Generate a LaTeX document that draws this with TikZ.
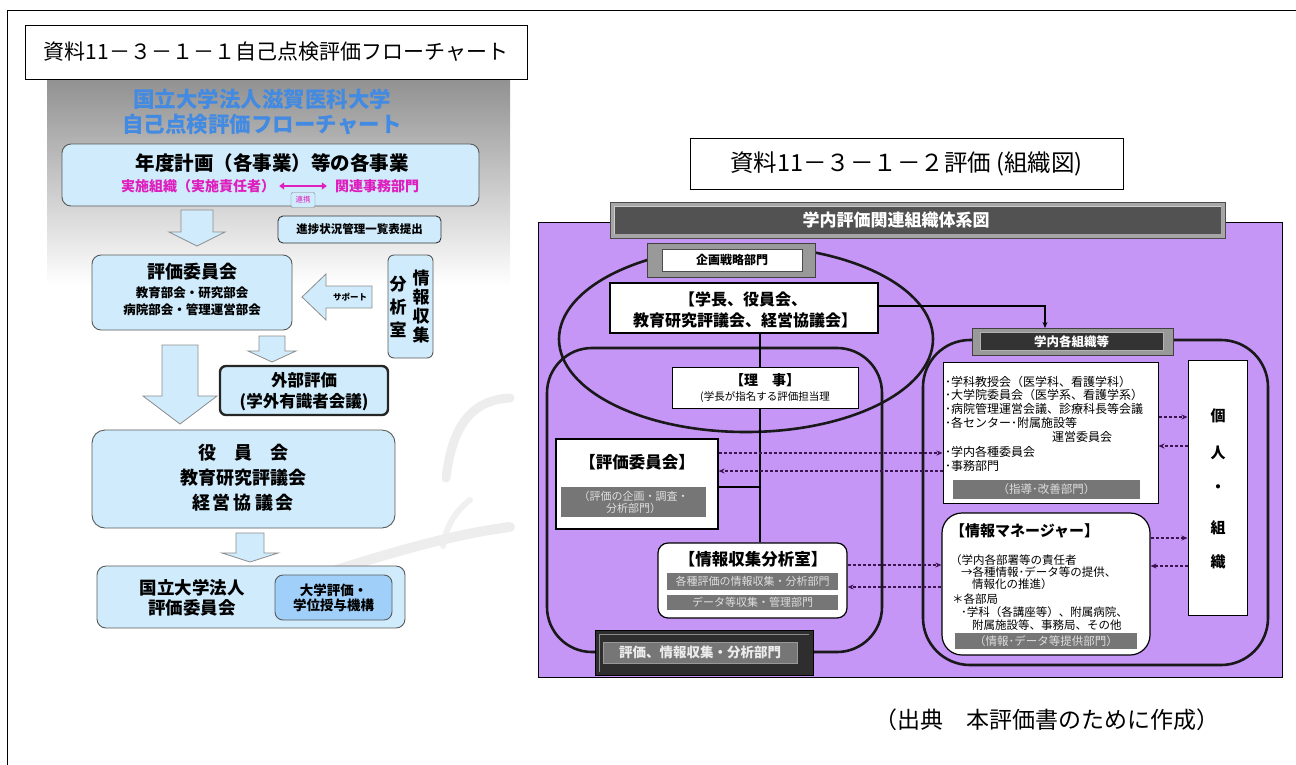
\documentclass[tikz,border=0pt]{standalone}
\usepackage{fontspec}
\setmainfont{Noto Sans CJK JP}
\usetikzlibrary{arrows.meta,calc}
\definecolor{lblue}{RGB}{208,236,252}
\definecolor{mblue}{RGB}{160,208,250}
\definecolor{tblue}{RGB}{66,138,226}
\definecolor{mag}{RGB}{222,30,190}
\definecolor{purp}{RGB}{198,150,247}
\definecolor{strip}{RGB}{118,118,118}
\definecolor{striptext}{RGB}{222,222,222}
\definecolor{dotc}{RGB}{60,20,80}
\newcommand{\fs}[1]{\fontsize{#1}{#1}\selectfont}
\tikzset{
  lb/.style={draw=black!65,fill=lblue,rounded corners=9pt,line width=0.9pt,inner sep=0pt},
  barrow/.style={draw=black!45,fill=lblue,line width=0.8pt},
  wb/.style={draw=black,fill=white,line width=1pt,inner sep=0pt},
  tk/.style={line width=2.6pt,black!90},
  conn/.style={line width=2pt,black},
  dots/.style={line width=1.3pt,dotc,dash pattern=on 3pt off 2pt,-{Stealth[length=6pt,width=5pt]}},
  gs/.style={fill=strip,draw=none,text=striptext,inner sep=0pt,align=center},
  txt/.style={inner sep=0pt,align=center},
  swoosh/.style={line cap=round,black!7},
}
\begin{document}
\begin{tikzpicture}[x=1pt,y=-1pt]
\useasboundingbox (0,0) rectangle (1296,764);
% outer frame
\draw[line width=1pt] (7,800) -- (7,10) -- (1320,10);
% ---------------- left chart ----------------
\shade[top color={rgb,255:red,145;green,145;blue,145},bottom color=white] (47,79) rectangle (510,285);
% swooshes
\draw[swoosh,line width=9pt] (510,398) .. controls (470,400) and (452,428) .. (446,478);
\draw[swoosh,line width=6pt,black!6] (470,500) .. controls (454,512) and (446,528) .. (443,546);
\draw[swoosh,line width=10pt] (330,572) .. controls (405,548) and (462,533) .. (510,527);
\node[draw=black,fill=white,line width=1pt,minimum width=502pt,minimum height=54pt,inner sep=0pt] (t1) at (276,52) {};
\node[txt,font=\fs{21}] (t1t) at (t1.center) {資料11－３－１－１自己点検評価フローチャート};
\node[txt,text=tblue,font=\bfseries\fs{21.5}] (bt1) at (262,99) {国立大学法人滋賀医科大学};
\node[txt,text=tblue,font=\bfseries\fs{21.5}] (bt2) at (262,124) {自己点検評価フローチャート};
% box1
\node[lb,minimum width=417pt,minimum height=62pt] (b1) at (270.5,175) {};
\node[txt,font=\bfseries\fs{19.5}] (b1a) at (272,163) {年度計画（各事業）等の各事業};
\node[txt,font=\bfseries\fs{14},text=mag] (b1b) at (198,186) {実施組織（実施責任者）};
\node[txt,font=\bfseries\fs{14},text=mag] (b1c) at (377,186) {関連事務部門};
\draw[mag,line width=2.4pt,{Triangle[length=5pt,width=7pt]}-{Triangle[length=5pt,width=7pt]}] (b1b.east) ++(4,0) coordinate (ma) -- ($(b1c.west)+(-8,0)$) coordinate (mb);
\node[draw=black!50,fill=lblue,rounded corners=2pt,minimum width=24pt,minimum height=15pt,inner sep=0pt,text=mag,font=\fs{7.5}] (rk) at ($(ma)!0.5!(mb)+(0,14)$) {連携};
% arrow 1
\draw[barrow] (181,210) -- (213,210) -- (213,232) -- (225,232) -- (197,246) -- (169,232) -- (181,232) -- cycle;
\node[lb,rounded corners=5pt,minimum width=163pt,minimum height=27pt,draw=black!80,font=\bfseries\fs{11.5}] (sh) at (359.5,229.5) {進捗状況管理一覧表提出};
% box2
\node[lb,minimum width=200pt,minimum height=75pt] (b2) at (192,292.5) {};
\node[txt,font=\bfseries\fs{18}] (b2a) at (192,272) {評価委員会};
\node[txt,font=\bfseries\fs{12.5}] (b2b) at (192,293) {教育部会・研究部会};
\node[txt,font=\bfseries\fs{12.5}] (b2c) at (192,310) {病院部会・管理運営部会};
% support arrow
\draw[barrow] (302,297) -- (326,274) -- (326,286) -- (372,286) -- (372,308) -- (326,308) -- (326,320) -- cycle;
\node[txt,font=\bfseries\fs{8.5}] (sp) at (350,297) {サポート};
% info room
\node[lb,rounded corners=6pt,minimum width=45pt,minimum height=103pt] (jr) at (410.5,306.5) {};
\node[txt,font=\bfseries\fs{17}] (jr1) at (421,307) {情\\[2pt]報\\[2pt]収\\[2pt]集};
\node[txt,font=\bfseries\fs{17}] (jr2) at (398,307) {分\\[6pt]析\\[6pt]室};
% arrow 2 (small)
\draw[barrow] (259,336) -- (285,336) -- (285,351) -- (296,351) -- (272,362) -- (248,351) -- (259,351) -- cycle;
% external
\node[lb,rounded corners=6pt,draw=black!85,line width=2.4pt,minimum width=168pt,minimum height=49pt] (ext) at (304,390.5) {};
\node[txt,font=\bfseries\fs{16.5}] (exta) at (304,380) {外部評価};
\node[txt,font=\bfseries\fs{16.5}] (extb) at (304,402) {(学外有識者会議)};
% arrow 3 (big)
\draw[barrow] (162,345) -- (198,345) -- (198,396) -- (217,396) -- (180,424) -- (143,396) -- (162,396) -- cycle;
% board
\node[lb,rounded corners=13pt,minimum width=303pt,minimum height=98pt] (b3) at (243.5,479) {};
\node[txt,font=\bfseries\fs{18}] (b3a) at (243,453) {役　員　会};
\node[txt,font=\bfseries\fs{18}] (b3b) at (243,478) {教育研究評議会};
\node[txt,font=\bfseries\fs{18}] (b3c) at (243,503) {経\,営\,協\,議\,会};
% arrow 4
\draw[barrow] (236,533) -- (264,533) -- (264,553) -- (278,553) -- (250,562) -- (222,553) -- (236,553) -- cycle;
% bottom box
\node[lb,minimum width=308pt,minimum height=62pt] (b4) at (251,597) {};
\node[txt,font=\bfseries\fs{17.5}] (b4a) at (192,598) {国立大学法人\\[3pt]評価委員会};
\node[lb,fill=mblue,rounded corners=8pt,minimum width=117pt,minimum height=45pt] (b4b) at (333.5,597.5) {};
\node[txt,font=\bfseries\fs{13.5}] (b4bt) at (333.5,598) {大学評価・\\[2pt]学位授与機構};
% ---------------- right chart ----------------
\node[draw=black,fill=white,line width=1pt,minimum width=433pt,minimum height=51pt,inner sep=0pt] (t2) at (906.5,163.5) {};
\node[txt,font=\fs{23.5}] (t2t) at (t2.center) {資料11－３－１－２評価 (組織図)};
\draw[fill=purp,line width=0.8pt] (538,222) rectangle (1282,677);
% header bar
\node[fill=black!35,draw=black!70,line width=0.8pt,minimum width=615pt,minimum height=36pt,inner sep=0pt] (hb) at (917.5,220) {};
\fill[black!68] (614,206) rectangle (1221,234);
\draw[black!20,line width=0.8pt] (614,234) -- (614,206) -- (1221,206);
\node[txt,text=white,font=\bfseries\fs{17}] (hbt) at (896,220) {学内評価関連組織体系図};
% big ellipse and containers
\draw[tk] (746,339) ellipse [x radius=187, y radius=93];
\draw[tk,rounded corners=45pt] (547,348) rectangle (882,652);
\draw[tk,rounded corners=47pt] (923,340) rectangle (1268,665);
% kikaku label
\node[fill=black!40,draw=black!75,line width=0.8pt,minimum width=168pt,minimum height=34pt,inner sep=0pt] (kk) at (731,260) {};
\node[fill=white,draw=black!70,line width=0.8pt,minimum width=140pt,minimum height=22pt,inner sep=0pt,font=\bfseries\fs{12}] (kkt) at (732,260) {企画戦略部門};
% president box
\node[wb,line width=2.6pt,minimum width=268pt,minimum height=50pt] (pr) at (744,308) {};
\node[txt,font=\bfseries\fs{16}] (pra) at (743,299) {【学長、役員会、};
\node[txt,font=\bfseries\fs{16}] (prb) at (745,320) {教育研究評議会、経営協議会】};
% riji box
\node[wb,minimum width=186pt,minimum height=41pt] (rj) at (765,387.5) {};
\node[txt,font=\bfseries\fs{14}] (rja) at (765,380) {【理　事】};
\node[txt,font=\fs{10.5}] (rjb) at (765,397) {(学長が指名する評価担当理};
% hyoka iinkai
\node[wb,line width=1.2pt,minimum width=162pt,minimum height=90pt] (hk) at (637,484) {};
\node[txt,font=\bfseries\fs{16.5}] (hka) at (637,462) {【評価委員会】};
\node[gs,minimum width=145pt,minimum height=30pt,font=\fs{11}] (hkb) at (633.5,502) {（評価の企画・調査・\\[1pt]分析部門）};
% joho shushu
\node[wb,line width=1.2pt,rounded corners=10pt,minimum width=189pt,minimum height=75pt] (js) at (752.5,580.5) {};
\node[txt,font=\bfseries\fs{16.5}] (jsa) at (753,559) {【情報収集分析室】};
\node[gs,minimum width=171pt,minimum height=17pt,font=\fs{11}] (jsb) at (752.5,581.5) {各種評価の情報収集・分析部門};
\node[gs,minimum width=171pt,minimum height=15pt,font=\fs{11}] (jsc) at (752.5,602.5) {データ等収集・管理部門};
% bottom dark bar
\node[fill=black!82,draw=black,line width=0.8pt,minimum width=218pt,minimum height=45pt,inner sep=0pt] (bb) at (704,652.5) {};
\draw[black!45,line width=1pt] (599,672) -- (599,634) -- (809,634);
\node[gs,text=black!8,minimum width=194pt,minimum height=21pt,font=\bfseries\fs{13.5},draw=black!40] (bbt) at (700,652.5) {評価、情報収集・分析部門};
% connectors
\draw[conn] (pr.south -| 760,0) -- (rj.north -| 760,0);
\draw[conn] (rj.south -| 760,0) -- (js.north -| 760,0);
\draw[conn] (hk.east |- 0,487) -- (760,487);
\draw[conn,line width=1.5pt,-{Stealth[length=6pt,width=5pt]}] (pr.east |- 0,306) -- (1045,306) -- (1045,328);
% gakunai bar
\node[fill=black!40,draw=black!75,line width=0.8pt,minimum width=201pt,minimum height=27pt,inner sep=0pt] (gn) at (1072.5,341.5) {};
\node[fill=black!80,draw=black!30,line width=0.6pt,minimum width=183pt,minimum height=18pt,inner sep=0pt,text=white,font=\bfseries\fs{12.5}] (gnt) at (1071.5,341.5) {学内各組織等};
% list box
\node[wb,minimum width=215pt,minimum height=141pt] (ls) at (1050.5,432.5) {};
\begin{scope}[every node/.style={inner sep=0pt,anchor=west,font=\fs{12}}]
\node (l1) at (945,382) {･学科教授会（医学科、看護学科）};
\node (l2) at (945,395) {･大学院委員会（医学系、看護学系）};
\node (l3) at (945,409) {･病院管理運営会議、診療科長等会議};
\node (l4) at (945,423) {･各センター･附属施設等};
\node (l5) at (1052,437) {運営委員会};
\node (l6) at (945,452) {･学内各種委員会};
\node (l7) at (945,466) {･事務部門};
\end{scope}
\node[gs,minimum width=187pt,minimum height=19pt,font=\fs{11.5}] (lsg) at (1046.5,489.5) {（指導･改善部門）};
% joho manager
\node[wb,line width=1.2pt,rounded corners=20pt,minimum width=208pt,minimum height=142pt] (jm) at (1046,584) {};
\begin{scope}[every node/.style={inner sep=0pt,anchor=west,font=\fs{11.5}}]
\node[font=\bfseries\fs{15}] (m0) at (950,531) {【情報マネージャー】};
\node (m1) at (950,560) {（学内各部署等の責任者};
\node (m2) at (961,572) {→各種情報･データ等の提供、};
\node (m3) at (972,584) {情報化の推進）};
\node (m4) at (952,599) {＊各部局};
\node (m5) at (961,612) {･学科（各講座等）、附属病院、};
\node (m6) at (972,625) {附属施設等、事務局、その他};
\end{scope}
\node[gs,minimum width=182pt,minimum height=16pt,font=\fs{11.5}] (jmg) at (1046,641) {（情報･データ等提供部門）};
% kojin
\node[wb,minimum width=59pt,minimum height=255pt] (kj) at (1217.5,487.5) {};
\node[txt,font=\bfseries\fs{15}] (kj1) at (1218,416) {個};
\node[txt,font=\bfseries\fs{15}] (kj2) at (1218,453) {人};
\node[txt,font=\bfseries\fs{15}] (kj3) at (1218,489) {・};
\node[txt,font=\bfseries\fs{15}] (kj4) at (1218,528) {組};
\node[txt,font=\bfseries\fs{15}] (kj5) at (1218,562) {織};
% dotted arrows
\draw[dots] (hk.east |- 0,453) -- (ls.west |- 0,453);
\draw[dots] (ls.west |- 0,471) -- (hk.east |- 0,471);
\draw[dots] (js.east |- 0,565) -- (jm.west |- 0,565);
\draw[dots] (jm.west |- 0,587) -- (js.east |- 0,587);
\draw[dots] (ls.east |- 0,417) -- (kj.west |- 0,417);
\draw[dots] (kj.west |- 0,446) -- (ls.east |- 0,446);
\draw[dots] (jm.east |- 0,538) -- (kj.west |- 0,538);
\draw[dots] (kj.west |- 0,566) -- (jm.east |- 0,566);
% source
\node[txt,font=\fs{23}] (src) at (1047,720) {（出典　本評価書のために作成）};
\end{tikzpicture}
\end{document}
